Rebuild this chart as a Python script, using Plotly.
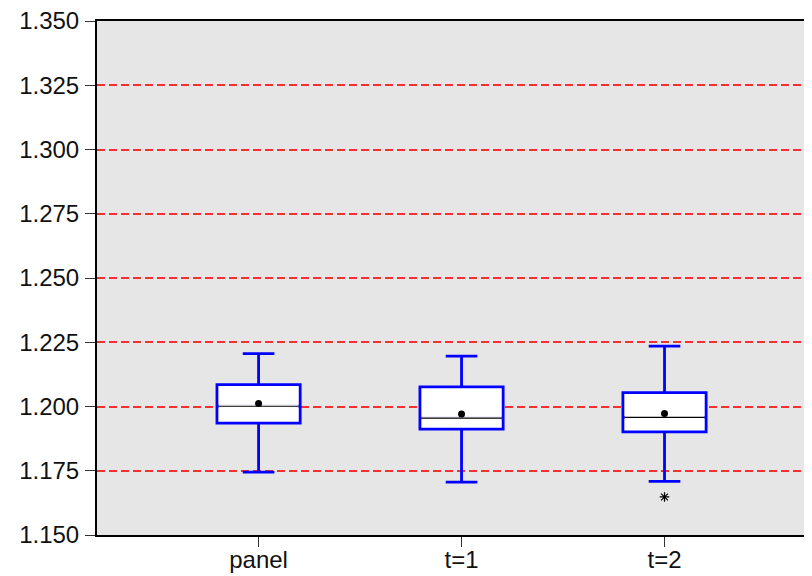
import plotly.graph_objects as go

categories = ["panel", "t=1", "t=2"]
lower_whisker = [1.1745, 1.1706, 1.1709]
q1 = [1.1935, 1.1912, 1.1901]
median = [1.2001, 1.1955, 1.1958]
q3 = [1.2085, 1.2076, 1.2054]
upper_whisker = [1.2206, 1.2196, 1.2235]
means = [1.2012, 1.1971, 1.1973]
outlier_cat = ["t=2"]
outlier_val = [1.1648]

y_ticks = [1.150, 1.175, 1.200, 1.225, 1.250, 1.275, 1.300, 1.325, 1.350]

pos = list(range(len(categories)))
box_w = 0.41
fig = go.Figure()

for i, c in enumerate(categories):
    fig.add_trace(go.Box(
        x=[pos[i]], q1=[q1[i]], median=[median[i]], q3=[q3[i]],
        lowerfence=[lower_whisker[i]], upperfence=[upper_whisker[i]],
        width=box_w, whiskerwidth=0.38,
        fillcolor="white", line=dict(color="#0000ff", width=2.8),
        boxpoints=False, showlegend=False, hoverinfo="skip"))

# median lines (thin black), masking the blue median with white first
for i, c in enumerate(categories):
    xs = [pos[i] - box_w / 2 + 0.009, pos[i] + box_w / 2 - 0.009]
    fig.add_trace(go.Scatter(x=xs, y=[median[i]] * 2, mode="lines",
                             line=dict(color="white", width=3.8),
                             showlegend=False, hoverinfo="skip"))
    fig.add_trace(go.Scatter(x=xs, y=[median[i]] * 2, mode="lines",
                             line=dict(color="black", width=1.2),
                             showlegend=False, hoverinfo="skip"))

fig.add_trace(go.Scatter(x=pos, y=means, mode="markers",
                         marker=dict(color="black", size=7, symbol="circle"),
                         showlegend=False, hoverinfo="skip"))
fig.add_trace(go.Scatter(x=[categories.index(c) for c in outlier_cat], y=outlier_val,
                         mode="markers",
                         marker=dict(color="black", size=8, symbol="asterisk-open",
                                     line=dict(color="black", width=1.2)),
                         showlegend=False, hoverinfo="skip"))

fig.update_layout(
    width=812, height=576,
    margin=dict(l=89, r=0, t=13, b=49, autoexpand=False),
    paper_bgcolor="white", plot_bgcolor="#e6e6e6",
    font=dict(family="Liberation Sans, Arial, sans-serif", size=24, color="#111"),
    xaxis=dict(range=[-0.796, 2.766], tickvals=pos, ticktext=categories,
               showgrid=False, zeroline=False, showline=True, linecolor="black",
               linewidth=2, mirror=True, ticks="outside", ticklen=10,
               tickcolor="#333", tickwidth=1, automargin=False,
               ticklabelstandoff=-8),
    yaxis=dict(range=[1.150, 1.350], tickvals=y_ticks,
               ticktext=[f"{v:.3f}" for v in y_ticks],
               showgrid=True, gridcolor="#f53030", gridwidth=1.5,
               griddash="8px,4px", zeroline=False, showline=True,
               linecolor="black", linewidth=2, ticks="outside", ticklen=10,
               tickcolor="#333", tickwidth=1, ticklabelstandoff=1,
               ticklabeloverflow="allow", automargin=False),
)

fig.write_html("out.html")
